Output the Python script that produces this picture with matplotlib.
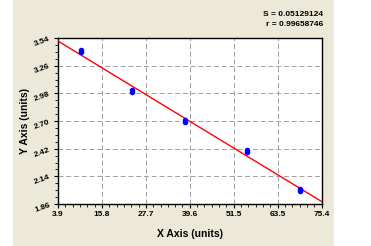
import matplotlib.pyplot as plt
import numpy as np
from matplotlib.patches import Rectangle
from matplotlib.ticker import AutoMinorLocator

plt.rcParams['font.family'] = ['Liberation Sans', 'DejaVu Sans']

x = [10.0, 24.0, 38.3, 55.2, 69.4]
y_rep1 = [3.42, 3.01, 2.71, 2.41, 2.01]
y_rep2 = [3.40, 2.99, 2.69, 2.39, 1.99]
xticks = [3.9, 15.8, 27.7, 39.6, 51.5, 63.5, 75.4]
yticks = [1.86, 2.14, 2.42, 2.70, 2.98, 3.26, 3.54]
stats = ["S = 0.05129124", "r = 0.99658746"]

fig = plt.figure(figsize=(3.71, 2.46), dpi=100)
fig.patches.append(Rectangle((13 / 371, 0), (334 - 13) / 371, 1,
                             transform=fig.transFigure, facecolor='#ECE9D8',
                             edgecolor='none', zorder=-10))
ax = fig.add_axes([58 / 371, 1 - 204 / 246, (322 - 58) / 371, (204 - 38) / 246])
ax.set_facecolor('white')

xs = np.array(x + x)
ys = np.array(y_rep1 + y_rep2)
slope, icpt = np.polyfit(xs, ys, 1)
xl = np.array([xticks[0], xticks[-1]])
ax.plot(xl, slope * xl + icpt, color='red', lw=1.0, zorder=3)
ax.scatter(x, y_rep1, s=16, color='#0000FF', zorder=4, linewidths=0)
ax.scatter(x, y_rep2, s=16, color='#0000FF', zorder=4, linewidths=0)

ax.set_xlim(xticks[0], xticks[-1])
ax.set_ylim(yticks[0], yticks[-1])
ax.set_xticks(xticks)
ax.set_yticks(yticks)
ax.set_xticklabels(['%.1f' % v for v in xticks], fontsize=6, fontweight='bold')
ax.set_yticklabels(['%.2f' % v for v in yticks], fontsize=6, fontweight='bold',
                   rotation=20)
ax.xaxis.set_minor_locator(AutoMinorLocator(6))
ax.yaxis.set_minor_locator(AutoMinorLocator(4))
ax.tick_params(which='major', length=3, width=0.8, pad=2)
ax.tick_params(which='minor', length=2, width=0.6)
ax.grid(True, which='major', color='#A0A0A0', linestyle=(0, (5, 3)), lw=0.7)
for sp in ax.spines.values():
    sp.set_linewidth(1.0)

ax.set_xlabel('X Axis (units)', fontsize=7.5, fontweight='bold', labelpad=8)
ax.set_ylabel('Y Axis (units)', fontsize=7.5, fontweight='bold', labelpad=2)

fig.text(323 / 371, 1 - 14 / 246, stats[0], ha='right', va='center',
         fontsize=6, fontweight='bold')
fig.text(323 / 371, 1 - 24 / 246, stats[1], ha='right', va='center',
         fontsize=6, fontweight='bold')

fig.savefig('out.png', dpi=100)
